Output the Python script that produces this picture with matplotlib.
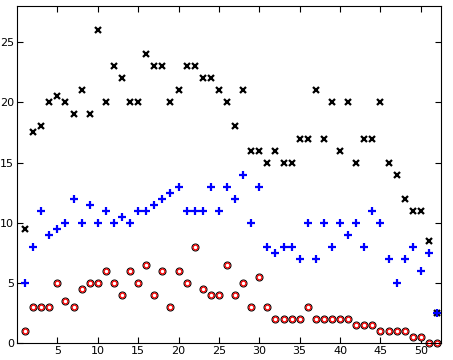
import numpy as np
import matplotlib
matplotlib.use("Agg")
import matplotlib.pyplot as plt

# sample index 1..52
idx = np.arange(1, 53)

# black crosses (top series)
cross_vals = [9.5, 17.5, 18, 20, 20.5, 20, 19, 21, 19, 26,
              20, 23, 22, 20, 20, 24, 23, 23, 20, 21,
              23, 23, 22, 22, 21, 20, 18, 21, 16, 16,
              15, 16, 15, 15, 17, 17, 21, 17, 20, 16,
              20, 15, 17, 17, 20, 15, 14, 12, 11, 11,
              8.5, 2.5]

# blue plus (middle series)
plus_vals = [5, 8, 11, 9, 9.5, 10, 12, 10, 11.5, 10,
             11, 10, 10.5, 10, 11, 11, 11.5, 12, 12.5, 13,
             11, 11, 11, 13, 11, 13, 12, 14, 10, 13,
             8, 7.5, 8, 8, 7, 10, 7, 10, 8, 10,
             9, 10, 8, 11, 10, 7, 5, 7, 8, 6,
             7.5, 2.5]

# circles (bottom series)
circle_vals = [1, 3, 3, 3, 5, 3.5, 3, 4.5, 5, 5,
               6, 5, 4, 6, 5, 6.5, 4, 6, 3, 6,
               5, 8, 4.5, 4, 4, 6.5, 4, 5, 3, 5.5,
               3, 2, 2, 2, 2, 3, 2, 2, 2, 2,
               2, 1.5, 1.5, 1.5, 1, 1, 1, 1, 0.5, 0.5,
               0, 0]

fig = plt.figure(figsize=(4.53, 3.6), dpi=100)
ax = fig.add_axes([17 / 453, 1 - 343.3 / 360, 424 / 453, 337.3 / 360])

ax.plot(idx, cross_vals, 'x', color='black', markersize=3.8, markeredgewidth=1.6,
        linestyle='none')
ax.plot(idx, plus_vals, '+', color='blue', markersize=5.5, markeredgewidth=1.6,
        linestyle='none')
ax.plot(idx, circle_vals, 'o', markerfacecolor='white', markeredgecolor='black',
        markersize=5.0, markeredgewidth=0.8, linestyle='none', clip_on=False)
ax.plot(idx, circle_vals, 'o', markerfacecolor='none', markeredgecolor='red',
        markersize=3.4, markeredgewidth=0.9, linestyle='none', clip_on=False)

ax.set_xlim(0, 52.5)
ax.set_ylim(0, 28)
ax.set_xticks(np.arange(5, 51, 5))
ax.set_yticks(np.arange(0, 26, 5))
ax.tick_params(direction='in', top=True, right=True, length=4, width=0.8,
               labelsize=8, pad=2)
for s in ax.spines.values():
    s.set_linewidth(0.8)

fig.savefig("out.png", dpi=100)
